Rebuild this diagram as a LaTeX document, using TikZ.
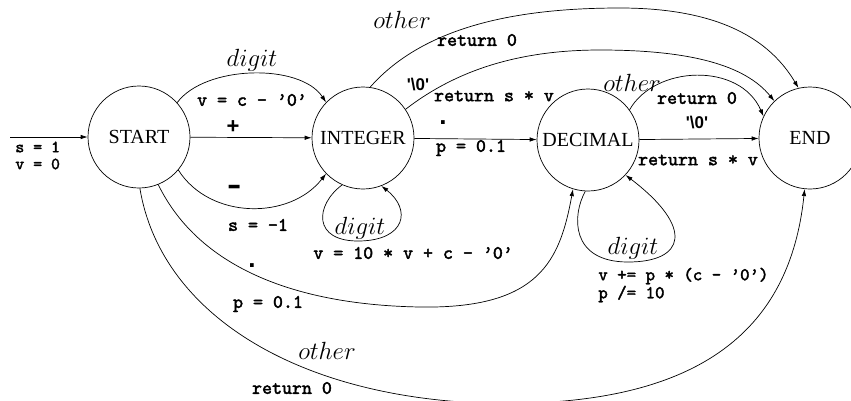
\documentclass[tikz,border=0pt]{standalone}
\usepackage{fontspec}
\usetikzlibrary{arrows.meta}
\newfontfamily\tms{Liberation Serif}
\newfontfamily\hel{Liberation Sans}
\newfontfamily\cour{lmmono10-regular.otf}[FakeBold=2.2]
\begin{document}
\begin{tikzpicture}[x=1pt,y=-1pt,line width=0.7pt,
  state/.style={circle,draw,minimum size=102pt,inner sep=0pt,font=\tms\fontsize{20}{24}\selectfont},
  code/.style={inner sep=0pt,font=\cour\fontsize{19}{20}\selectfont},
  ev/.style={inner sep=0pt,font=\fontsize{24}{28}\selectfont},
  sym/.style={inner sep=0pt,font=\hel\bfseries\fontsize{22}{24}\selectfont},
  qz/.style={inner sep=0pt,font=\hel\bfseries\fontsize{17}{19}\selectfont},
  tr/.style={-{Latex[length=7pt,width=4.5pt]}}]
\useasboundingbox (0,0) rectangle (851,400);

\node[state] (start) at (139,137) {START};
\node[state] (int) at (363,138) {INTEGER};
\node[state] (dec) at (588,140) {DECIMAL};
\node[state] (end) at (810,138) {END};
\coordinate (in0) at (10,137);

% straight transitions
\draw[tr] (in0) -- (start);
\draw[tr] (start) -- (int);
\draw[tr] (int) -- (dec);
\draw[tr] (dec) -- (end);

% START -> INTEGER
\draw[tr] (start.42) .. controls (205,65) and (300,63) .. (int.136);
\draw[tr] (start.-40) .. controls (210,220) and (290,220) .. (int.-136);
% INTEGER loop
\draw[tr] (int.-114) .. controls (315,205) and (312,242) .. (360,241)
          .. controls (405,240) and (412,210) .. (int.-69);
% INTEGER -> END
\draw[tr] (int.82) .. controls (425,25) and (520,8) .. (620,8)
          .. controls (720,8) and (770,40) .. (end.103);
\draw[tr] (int.34) .. controls (450,75) and (510,50) .. (600,50)
          .. controls (690,50) and (745,65) .. (end.134);
% DECIMAL -> END
\draw[tr] (dec.36) .. controls (655,65) and (740,62) .. (end.155);
% DECIMAL loop
\draw[tr] (dec.-93) .. controls (572,215) and (570,262) .. (628,262)
          .. controls (685,262) and (695,228) .. (dec.-43);
% START -> DECIMAL
\draw[tr] (start.-68) .. controls (200,270) and (300,305) .. (420,307)
          .. controls (540,309) and (560,260) .. (dec.-107);
% START -> END
\draw[tr] (start.-89) .. controls (160,310) and (290,395) .. (480,403)
          .. controls (700,410) and (790,330) .. (end.-96);

% labels
\node[code,anchor=west,font=\cour\fontsize{17}{18}\selectfont] (ls1) at (15,147) {s = 1};
\node[code,anchor=west,font=\cour\fontsize{17}{18}\selectfont] (ls2) at (15,164) {v = 0};
\node[sym] (lplus) at (233,127) {+};
\node[ev] (ldig1) at (252,60) {$digit$};
\node[code] (lvc) at (252,100) {v = c - ’0’};
\node[sym] (lminus) at (235,191) {\scalebox{1}[1.6]{–}};
\node[code] (ls3) at (258,225) {s = -1};
\node[ev] (ldig2) at (360,228) {$digit$};
\node[code,anchor=west] (lv10) at (313,253) {v = 10 * v + c - ’0’};
\node[sym,font=\hel\bfseries\fontsize{26}{26}\selectfont] (ldot1) at (443,123) {.};
\node[code] (lp1) at (471,148) {p = 0.1};
\node[ev] (loth1) at (402,20) {$other$};
\node[code] (lr1) at (477,40) {return 0};
\node[qz] (lz1) at (418,85) {'\textbackslash 0'};
\node[code] (lrs1) at (494,96) {return s * v};
\node[ev] (loth2) at (632,83) {$other$};
\node[code] (lr2) at (697,98) {return 0};
\node[qz] (lz2) at (697,123) {'\textbackslash 0'};
\node[code] (lrs2) at (698,160) {return s * v};
\node[ev] (ldig3) at (633,248) {$digit$};
\node[code,anchor=west,font=\cour\fontsize{18}{19}\selectfont] (lvp) at (598,276) {v += p * (c - ’0’)};
\node[code,anchor=west,font=\cour\fontsize{18}{19}\selectfont] (lpd) at (598,294) {p /= 10};
\node[sym,font=\hel\bfseries\fontsize{26}{26}\selectfont] (ldot2) at (252,266) {.};
\node[code] (lp2) at (268,304) {p = 0.1};
\node[ev] (loth3) at (327,351) {$other$};
\node[code] (lr3) at (292,388) {return 0};
\end{tikzpicture}
\end{document}
